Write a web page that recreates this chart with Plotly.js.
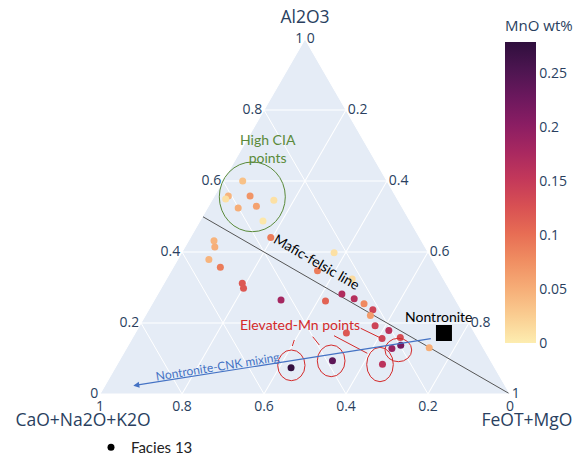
<!DOCTYPE html>
<html>
<head>
<meta charset="utf-8">
<script src="https://cdn.plot.ly/plotly-3.0.1.min.js"></script>
<style>html,body{margin:0;padding:0;background:#fff;}#chart{width:578px;height:453px;}</style>
</head>
<body>
<div id="chart"></div>
<script>
// Facies 13 samples: Al2O3, CaO+Na2O+K2O, FeOT+MgO (fractions) and MnO wt%
var aAl2O3 = [0.600,0.558,0.549,0.558,0.524,0.529,0.546,0.487,0.441,0.432,0.414,0.379,0.357,0.312,0.298,0.398,0.347,0.324,0.282,0.268,0.262,0.254,0.237,0.221,0.192,0.179,0.172,0.156,0.159,0.128,0.137,0.130,0.084,0.094,0.265,0.074];
var bCNK   = [0.352,0.408,0.419,0.355,0.401,0.354,0.303,0.359,0.363,0.506,0.513,0.545,0.528,0.497,0.501,0.230,0.296,0.223,0.269,0.246,0.319,0.229,0.216,0.230,0.233,0.206,0.313,0.234,0.188,0.224,0.198,0.132,0.269,0.386,0.426,0.497];
var cFM    = [0.048,0.034,0.032,0.087,0.075,0.117,0.151,0.154,0.196,0.062,0.073,0.076,0.115,0.191,0.201,0.372,0.357,0.453,0.449,0.486,0.419,0.517,0.547,0.549,0.575,0.615,0.515,0.610,0.653,0.648,0.665,0.738,0.647,0.520,0.309,0.429];
var mnO    = [0.035,0.045,0.010,0.070,0.050,0.060,0.010,0.005,0.090,0.045,0.050,0.045,0.090,0.120,0.120,0.010,0.090,0.015,0.170,0.165,0.110,0.080,0.140,0.065,0.140,0.160,0.120,0.140,0.130,0.190,0.220,0.050,0.160,0.240,0.180,0.275];

// Nontronite end-member
var nontA = [0.172], nontB = [0.075], nontC = [0.753];
// Mafic-felsic line (Al2O3 = CaO+Na2O+K2O)
var lineA = [0.5, 0], lineB = [0.5, 0], lineC = [0, 1];

var mnoMin = 0, mnoMax = 0.279;
var matter = ['rgb(253, 237, 176)','rgb(250, 205, 145)','rgb(246, 173, 119)','rgb(240, 142, 98)','rgb(231, 109, 84)','rgb(216, 80, 83)','rgb(195, 56, 90)','rgb(168, 40, 96)','rgb(138, 29, 99)','rgb(107, 24, 93)','rgb(76, 21, 80)','rgb(47, 15, 61)'];
var cscale = matter.map(function(c, i){ return [i/(matter.length-1), c]; });

function px2x(p){ return (p-100)/410; }
function px2y(p){ return (394-p)/355; }

var traces = [
  {type:'scatterternary', mode:'lines', a:lineA, b:lineB, c:lineC, showlegend:false,
   line:{color:'#555555', width:1}, hoverinfo:'skip'},
  {type:'scatterternary', mode:'markers', a:aAl2O3, b:bCNK, c:cFM, showlegend:false,
   marker:{size:7, color:mnO, cmin:mnoMin, cmax:mnoMax, colorscale:cscale,
     colorbar:{title:{text:'MnO wt%', side:'top', font:{size:15}}, tickfont:{size:14},
       thickness:31, lenmode:'pixels', len:326, x:px2x(493), xanchor:'left', xpad:12,
       y:px2y(343), yanchor:'bottom', ypad:0, outlinewidth:0, tickvals:[0,0.05,0.1,0.15,0.2,0.25],
       ticktext:['0','0.05','0.1','0.15','0.2','0.25']}}},
  {type:'scatterternary', mode:'markers', a:nontA, b:nontB, c:nontC, showlegend:false,
   marker:{symbol:'square', size:16, color:'black'}},
  {type:'scatterternary', mode:'markers', a:[null], b:[null], c:[null], name:'Facies 13', showlegend:true,
   marker:{size:7, color:'black'}}
];

var axisStyle = function(t){
  return {title:{text:t, font:{size:17.5}}, tickfont:{size:14}, gridcolor:'white', linecolor:'white', ticks:'', showline:true, min:0};
};

var red = '#d42a2a';
var ann = function(x, y, text, color, size, angle){
  return {xref:'paper', yref:'paper', x:px2x(x), y:px2y(y), text:text, showarrow:false,
    xanchor:'center', yanchor:'middle', textangle:angle || 0,
    font:{family:'Lato, sans-serif', size:size, color:color}};
};
var layout = {
  width:578, height:453,
  margin:{l:100, r:68, t:39, b:59, autoexpand:false},
  paper_bgcolor:'white',
  showlegend:true,
  font:{family:'"Open Sans", verdana, arial, sans-serif', size:14, color:'#2a3f5f'},
  ternary:{domain:{x:[0,1], y:[0,1]}, bgcolor:'#E5ECF6', sum:1,
    aaxis:axisStyle('Al2O3'), baxis:axisStyle('CaO+Na2O+K2O'), caxis:axisStyle('FeOT+MgO')},
  legend:{x:px2x(91), y:px2y(431), xanchor:'left', yanchor:'top', bgcolor:'rgba(0,0,0,0)',
    font:{family:'Lato, sans-serif', size:15, color:'#222'}},
  shapes:[
    {type:'circle', xref:'paper', yref:'paper', x0:px2x(219.3), x1:px2x(285.3), y0:px2y(231.7), y1:px2y(162), line:{color:'#5a8a3a', width:1}},
    {type:'circle', xref:'paper', yref:'paper', x0:px2x(277.7), x1:px2x(305), y0:px2y(380.7), y1:px2y(350), line:{color:red, width:1}},
    {type:'circle', xref:'paper', yref:'paper', x0:px2x(317.3), x1:px2x(345), y0:px2y(376.7), y1:px2y(345), line:{color:red, width:1}},
    {type:'circle', xref:'paper', yref:'paper', x0:px2x(366.7), x1:px2x(393.3), y0:px2y(381.7), y1:px2y(347.3), line:{color:red, width:1}},
    {type:'circle', xref:'paper', yref:'paper', x0:px2x(385), x1:px2x(411.7), y0:px2y(361.7), y1:px2y(338.3), line:{color:red, width:1}},
    {type:'line', xref:'paper', yref:'paper', x0:px2x(294.3), y0:px2y(340), x1:px2x(292.3), y1:px2y(346), line:{color:red, width:1}},
    {type:'line', xref:'paper', yref:'paper', x0:px2x(312.7), y0:px2y(336.7), x1:px2x(319.3), y1:px2y(345), line:{color:red, width:1}},
    {type:'line', xref:'paper', yref:'paper', x0:px2x(334), y0:px2y(335.7), x1:px2x(367.3), y1:px2y(353.3), line:{color:red, width:1}},
    {type:'line', xref:'paper', yref:'paper', x0:px2x(360.7), y0:px2y(328.3), x1:px2x(380), y1:px2y(337.7), line:{color:red, width:1}}
  ],
  annotations:[
    ann(268, 148, 'High CIA<br>points', '#5a8a3a', 14),
    ann(317, 261, 'Mafic-felsic line', 'black', 14, 30),
    ann(438, 316.5, 'Nontronite', 'black', 14),
    ann(300, 324, 'Elevated-Mn points', red, 14),
    ann(217, 366, 'Nontronite-CNK mixing', '#4472c4', 12, -9),
    {xref:'paper', yref:'paper', x:px2x(133.3), y:px2y(385.7), text:'', showarrow:true, ax:299, ay:-47.4,
     arrowhead:2, arrowsize:1, arrowwidth:1.2, arrowcolor:'#4472c4', standoff:0, startstandoff:0}
  ]
};

Plotly.newPlot('chart', traces, layout, {displayModeBar:false, staticPlot:true});
</script>
</body>
</html>
